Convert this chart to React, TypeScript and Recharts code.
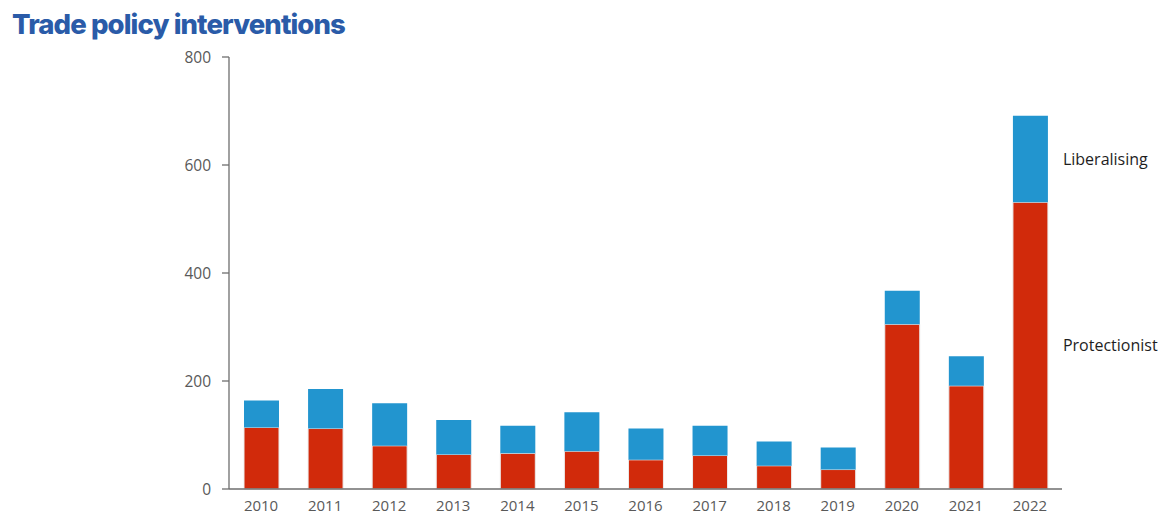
import { BarChart, Bar, XAxis, YAxis, LabelList } from "recharts";

const YEARS = ["2010", "2011", "2012", "2013", "2014", "2015", "2016", "2017", "2018", "2019", "2020", "2021", "2022"];
const PROTECTIONIST = [114, 112, 80, 64, 66, 70, 54, 62, 43, 36, 305, 191, 531];
const LIBERALISING = [50, 73, 79, 64, 51, 72, 58, 55, 45, 41, 62, 55, 160];
const Y_TICKS = [0, 200, 400, 600, 800];

const RED = "#d12a0b";
const BLUE = "#2295cf";
const AXIS = "#6e6e6e";
const TICK_TEXT = "#595959";

const chartData = YEARS.map((year, i) => ({
  year,
  protectionist: PROTECTIONIST[i],
  liberalising: LIBERALISING[i],
}));

// series name drawn to the right of the last bar, centred on its segment
const seriesLabel = (text: string) => (props: any) => {
  const { x, y, width, height, index } = props;
  if (index !== YEARS.length - 1) return null;
  return (
    <text
      x={Number(x) + Number(width) + 15}
      y={Number(y) + Number(height) / 2}
      dy="0.35em"
      fill="#1e1e1e"
      fontSize={16}
      fontFamily="'Open Sans', sans-serif"
    >
      {text}
    </text>
  );
};

export default function App() {
  return (
    <div style={{ position: "absolute", left: 0, top: 0, width: 1162, height: 516, background: "#fff" }}>
      <div
        style={{
          position: "absolute",
          left: 12,
          top: 7,
          fontFamily: "Inter, sans-serif",
          fontWeight: 800,
          fontSize: 27.5,
          letterSpacing: -0.9,
          color: "#2a5ba8",
          whiteSpace: "nowrap",
        }}
      >
        Trade policy interventions
      </div>
      <BarChart
        width={1162}
        height={516}
        data={chartData}
        margin={{ top: 57, right: 100, bottom: 0, left: 0 }}
        barSize={35}
      >
        <XAxis
          dataKey="year"
          height={27}
          axisLine={{ stroke: AXIS, strokeWidth: 1.3 }}
          tickLine={false}
          tickSize={6}
          tickMargin={5}
          tick={{ fill: TICK_TEXT, fontSize: 15, fontFamily: "'Open Sans', sans-serif" }}
        />
        <YAxis
          width={229}
          domain={[0, 800]}
          ticks={Y_TICKS}
          axisLine={{ stroke: AXIS, strokeWidth: 1.3 }}
          tickLine={{ stroke: AXIS, strokeWidth: 1.3 }}
          tickSize={7}
          tickMargin={11}
          tick={{ fill: TICK_TEXT, fontSize: 15.5, fontFamily: "'Open Sans', sans-serif" }}
        />
        <Bar dataKey="protectionist" stackId="a" fill={RED} stroke="#ececec" strokeWidth={1} isAnimationActive={false}>
          <LabelList dataKey="protectionist" content={seriesLabel("Protectionist")} />
        </Bar>
        <Bar dataKey="liberalising" stackId="a" fill={BLUE} isAnimationActive={false}>
          <LabelList dataKey="liberalising" content={seriesLabel("Liberalising")} />
        </Bar>
      </BarChart>
    </div>
  );
}
